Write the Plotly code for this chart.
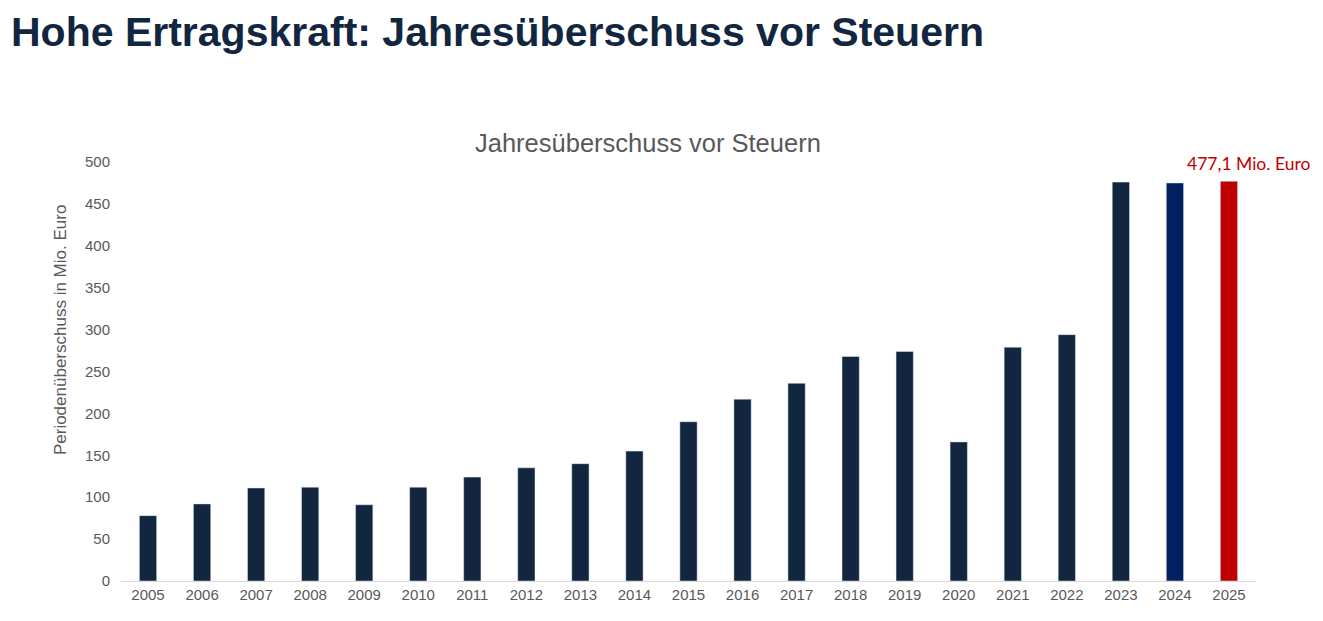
import plotly.graph_objects as go

# Jahresüberschuss vor Steuern, Mio. Euro
jahre = [str(j) for j in range(2005, 2026)]
werte = [78, 92, 111, 112, 91, 112, 124, 135, 140, 155, 190, 217, 236, 268,
         274, 166, 279, 294, 476, 475, 477.1]
farben = ["#12263F"] * 19 + ["#002060", "#C00000"]

fig = go.Figure()
fig.add_trace(go.Bar(x=jahre, y=werte, marker_color=farben, width=0.32,
                     hoverinfo="x+y"))

# Beschriftung über dem letzten Balken (x als Kategorie-Index)
fig.add_annotation(x=len(jahre) - 1, y=werte[-1], text="477,1 Mio. Euro", showarrow=False,
                   xanchor="center", yanchor="bottom", yshift=5, xshift=20,
                   font=dict(family="Lato", size=17.5, color="#C00000"))

fig.add_annotation(text="<b>Hohe Ertragskraft: Jahresüberschuss vor Steuern</b>",
                   xref="paper", yref="paper", x=-0.098, y=1.3103, borderpad=0,
                   xanchor="left", yanchor="middle", showarrow=False,
                   font=dict(family="Liberation Sans, Arial", size=41, color="#12263F"))
fig.add_annotation(text="Jahresüberschuss vor Steuern",
                   xref="paper", yref="paper", x=0.464, y=1.045,
                   xanchor="center", yanchor="middle", showarrow=False,
                   font=dict(family="Liberation Sans, Arial", size=25.5, color="#595959"))
fig.add_annotation(text="Periodenüberschuss in Mio. Euro", textangle=-90,
                   xref="paper", yref="paper", x=-0.0537, y=0.599,
                   xanchor="center", yanchor="middle", showarrow=False,
                   font=dict(family="Liberation Sans, Arial", size=17, color="#595959"))

fig.update_layout(
    width=1315, height=613,
    paper_bgcolor="white", plot_bgcolor="white",
    margin=dict(l=113, r=67, t=154, b=40),
    showlegend=False,
    font=dict(family="Liberation Sans, Arial", color="#595959", size=15),
)
fig.update_yaxes(range=[0, 500], dtick=50, showgrid=False, zeroline=False,
                 showline=False, ticks="", ticklabelstandoff=10)
fig.update_xaxes(showline=True, linecolor="#D9D9D9", linewidth=1, ticks="",
                 type="category", range=[-0.5, len(jahre) - 0.5])

fig.write_html("out.html")
